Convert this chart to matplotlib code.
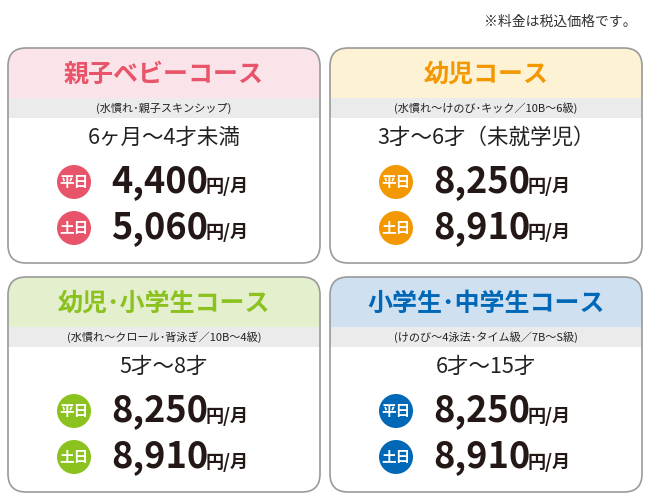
import matplotlib.pyplot as plt
from matplotlib.patches import FancyBboxPatch, Rectangle, Circle
from matplotlib.path import Path
from matplotlib.patches import PathPatch

plt.rcParams['font.family'] = ['Noto Sans CJK JP', 'DejaVu Sans']

titles = ['親子ベビーコース', '幼児コース', '幼児･小学生コース', '小学生･中学生コース']
notes = ['(水慣れ･親子スキンシップ)', '(水慣れ～けのび･キック／10B～6級)',
         '(水慣れ～クロール･背泳ぎ／10B～4級)', '(けのび～4泳法･タイム級／7B～S級)']
ages = ['6ヶ月～4才未満', '3才～6才（未就学児）', '5才～8才', '6才～15才']
weekday = ['4,400', '8,250', '8,250', '8,250']
weekend = ['5,060', '8,910', '8,910', '8,910']
day_labels = ['平日', '土日']
accent = ['#e8546a', '#f39800', '#8cc220', '#0068b7']
header_bg = ['#fbe3ea', '#fdf2d4', '#e4efcd', '#cfe0f1']

fig = plt.figure(figsize=(6.5, 5), dpi=100)
ax = fig.add_axes([0, 0, 1, 1])
ax.set_xlim(0, 650)
ax.set_ylim(500, 0)
ax.axis('off')

ax.text(637, 22, '※料金は税込価格です。', ha='right', va='center', fontsize=10, color='#333')

origins = [(8, 48), (330, 48), (8, 277), (330, 277)]
w, h, r = 312, 215, 18

for i, (x0, y0) in enumerate(origins):
    # header with rounded top corners
    verts = [(x0, y0 + 50), (x0, y0 + r), (x0, y0), (x0 + r, y0), (x0 + w - r, y0),
             (x0 + w, y0), (x0 + w, y0 + r), (x0 + w, y0 + 50), (x0, y0 + 50)]
    codes = [Path.MOVETO, Path.LINETO, Path.CURVE3, Path.CURVE3, Path.LINETO,
             Path.CURVE3, Path.CURVE3, Path.LINETO, Path.CLOSEPOLY]
    ax.add_patch(PathPatch(Path(verts, codes), fc=header_bg[i], ec='none'))
    ax.add_patch(Rectangle((x0, y0 + 50), w, 20, fc='#ebebeb', ec='none'))
    ax.add_patch(FancyBboxPatch((x0, y0), w, h, boxstyle=f'round,pad=0,rounding_size={r}',
                                fc='none', ec='#9a9a9a', lw=1.2))
    cx = x0 + w / 2
    ax.text(cx, y0 + 27, titles[i], ha='center', va='center', fontsize=18,
            fontweight='bold', color=accent[i])
    ax.text(cx, y0 + 60, notes[i], ha='center', va='center', fontsize=8, color='#222')
    ax.text(cx, y0 + 90, ages[i], ha='center', va='center', fontsize=15.5, color='#222')
    for j, price in enumerate([weekday[i], weekend[i]]):
        yy = y0 + 134 + j * 46
        ax.add_patch(Circle((x0 + 66, yy), 17, fc=accent[i], ec='none'))
        ax.text(x0 + 66, yy, day_labels[j], ha='center', va='center', fontsize=10.5,
                fontweight='bold', color='white')
        ax.text(x0 + 103, yy, price, ha='left', va='center', fontsize=26,
                fontweight='bold', color='#231815')
        ax.text(x0 + 198, yy + 5, '円/月', ha='left', va='center', fontsize=13,
                fontweight='bold', color='#231815')

fig.savefig('out.png', dpi=100)
